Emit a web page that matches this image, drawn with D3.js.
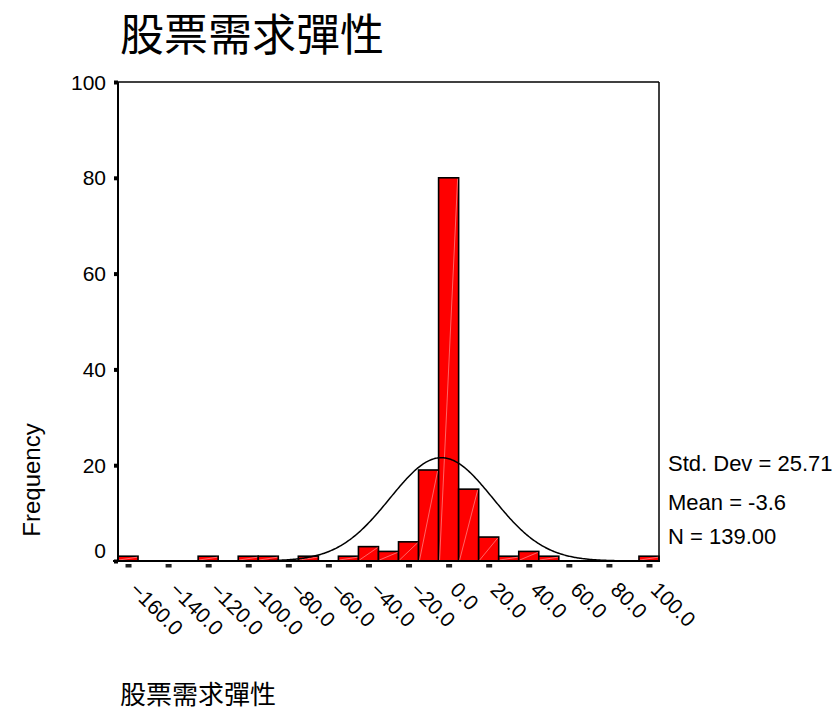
<!DOCTYPE html>
<html><head><meta charset="utf-8">
<script src="https://cdn.jsdelivr.net/npm/d3@7"></script>
<style>
body{margin:0;background:#fff}
text{font-family:"Liberation Sans",Arial,sans-serif;fill:#000}
.cjk{font-family:"Noto Sans CJK TC","Noto Sans CJK SC",sans-serif}
</style>
</head><body>
<svg id="chart" width="835" height="713"></svg>
<script>
// ---- data ----
const chartTitle = "股票需求彈性";
const xTitle = "股票需求彈性";
const yTitle = "Frequency";
const binCenters = [-160,-150,-140,-130,-120,-110,-100,-90,-80,-70,-60,-50,-40,-30,-20,-10,0,10,20,30,40,50,60,70,80,90,100];
const frequencies = [1,0,0,0,1,0,1,1,0,1,0,1,3,2,4,19,80,15,5,1,2,1,0,0,0,0,1];
const xTickValues = [-160,-140,-120,-100,-80,-60,-40,-20,0,20,40,60,80,100];
const yTickValues = [0,20,40,60,80,100];
const stdDev = 25.71;
const mean = -3.6;
const nCases = 139;
const binWidth = 10;
const statLabels = ["Std. Dev = 25.71","Mean = -3.6","N = 139.00"];

// ---- layout ----
const svg = d3.select("#chart");
const L = 118, R = 659, T = 82, B = 561;
const x = d3.scaleLinear().domain([-165,105]).range([L,R]);
const y = d3.scaleLinear().domain([0,100]).range([B,T]);

// title
svg.append("text").attr("class","cjk").attr("x",120).attr("y",51)
  .style("font-size","44px").text(chartTitle);

// bars
const bins = binCenters.map((c,i)=>({c, f:frequencies[i]})).filter(d=>d.f>0);
const gb = svg.append("g");
gb.selectAll("rect").data(bins).join("rect")
  .attr("x",d=>x(d.c-binWidth/2)).attr("width",d=>x(d.c+binWidth/2)-x(d.c-binWidth/2))
  .attr("y",d=>y(d.f)).attr("height",d=>y(0)-y(d.f))
  .attr("fill","#ff0000").attr("stroke","#000").attr("stroke-width",1.6);
gb.selectAll("line").data(bins).join("line")
  .attr("x1",d=>x(d.c-binWidth/2)+1).attr("y1",y(0)-1)
  .attr("x2",d=>x(d.c+binWidth/2)-1).attr("y2",d=>y(d.f)+1)
  .attr("stroke","#ff9090").attr("stroke-width",0.7);

// normal curve
const pdf = v => nCases*binWidth/(stdDev*Math.sqrt(2*Math.PI))*Math.exp(-0.5*((v-mean)/stdDev)**2);
const xs = d3.range(-165,105.01,0.5);
svg.append("path").datum(xs)
  .attr("d", d3.line().x(v=>x(v)).y(v=>y(pdf(v))))
  .attr("fill","none").attr("stroke","#000").attr("stroke-width",1.5);

// frame
svg.append("line").attr("x1",L).attr("x2",R).attr("y1",T).attr("y2",T).attr("stroke","#000").attr("stroke-width",1.5);
svg.append("line").attr("x1",R).attr("x2",R).attr("y1",T).attr("y2",B).attr("stroke","#000").attr("stroke-width",1.5);
svg.append("line").attr("x1",L).attr("x2",L).attr("y1",T).attr("y2",B).attr("stroke","#000").attr("stroke-width",2);
svg.append("line").attr("x1",L-5).attr("x2",R+1).attr("y1",B).attr("y2",B).attr("stroke","#000").attr("stroke-width",2);

// y axis
const gy = svg.append("g").attr("transform",`translate(${L},0)`)
  .call(d3.axisLeft(y).tickValues(yTickValues).tickSize(4).tickPadding(8).tickFormat(d3.format("d")));
gy.select(".domain").remove();
gy.selectAll(".tick line").attr("stroke","#000").attr("stroke-width",4);
gy.selectAll(".tick text").style("font-size","21px").style("font-family","'Liberation Sans',Arial,sans-serif").attr("fill","#000")
  .attr("dy",d=>d===0?"-0.15em":"0.34em");

// x axis
const gx = svg.append("g").attr("transform",`translate(0,${B})`)
  .call(d3.axisBottom(x).tickValues(xTickValues).tickSize(0).tickFormat(d3.format(".1f")));
gx.select(".domain").remove();
gx.selectAll(".tick text").attr("x",0).attr("y",0).attr("dy",0)
  .attr("transform","translate(0,30) rotate(45)")
  .style("text-anchor","start").style("font-size","21px")
  .style("font-family","'Liberation Sans',Arial,sans-serif").attr("fill","#000");
gx.selectAll(".tick").append("rect").attr("x",-3).attr("y",3).attr("width",6).attr("height",3.5).attr("fill","#222");

// stats
const statY = [471,510,544];
svg.append("g").selectAll("text").data(statLabels).join("text")
  .attr("x",668).attr("y",(d,i)=>statY[i]).style("font-size","22px").text(d=>d);

// axis titles
svg.append("text").attr("transform","translate(40,480) rotate(-90)")
  .style("text-anchor","middle").style("font-size","24px").text(yTitle);
svg.append("text").attr("class","cjk").attr("x",120).attr("y",704)
  .style("font-size","26px").text(xTitle);
</script>
</body></html>
